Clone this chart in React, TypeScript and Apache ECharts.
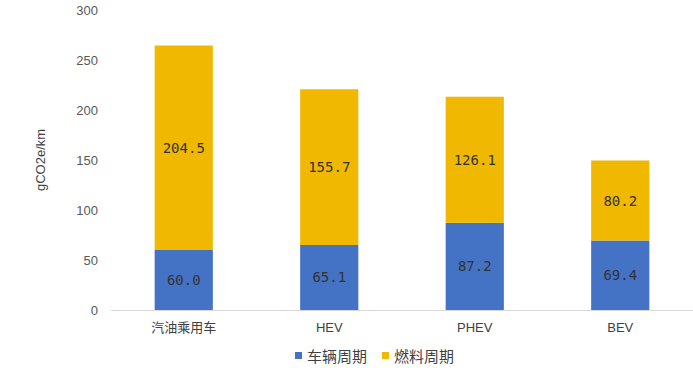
import React, { useEffect, useRef } from "react";
import * as echarts from "echarts";

const categories = ["汽油乘用车", "HEV", "PHEV", "BEV"];
const vehicleCycle = [60.0, 65.1, 87.2, 69.4];
const fuelCycle = [204.5, 155.7, 126.1, 80.2];
const seriesNames = ["车辆周期", "燃料周期"];
const yAxisName = "gCO2e/km";

export default function App() {
  const ref = useRef<HTMLDivElement>(null);
  useEffect(() => {
    if (!ref.current) return;
    const chart = echarts.init(ref.current, null, { renderer: "svg" });
    const labelStyle = {
      show: true,
      position: "inside" as const,
      formatter: (p: any) => Number(p.value).toFixed(1),
      color: "#333333",
      fontSize: 14,
      fontFamily: "DejaVu Sans Mono",
    };
    chart.setOption({
      animation: false,
      grid: { left: 111, right: 0, top: 10, bottom: 58 },
      legend: {
        top: 348,
        left: 295,
        padding: 0,
        itemWidth: 7,
        itemHeight: 7,
        itemGap: 15,
        icon: "rect",
        textStyle: { fontSize: 15, color: "#404040", fontFamily: "Noto Sans CJK SC" },
        data: seriesNames,
      },
      xAxis: {
        type: "category",
        data: categories,
        axisLine: { lineStyle: { color: "#d9d9d9" } },
        axisTick: { show: false },
        axisLabel: { color: "#404040", fontSize: 13, margin: 11, fontFamily: "Liberation Sans, Noto Sans CJK SC" },
      },
      yAxis: {
        type: "value",
        min: 0,
        max: 300,
        interval: 50,
        name: yAxisName,
        nameLocation: "middle",
        nameRotate: 90,
        nameGap: 64,
        nameTextStyle: { fontSize: 13, color: "#404040", fontFamily: "Liberation Sans" },
        axisLine: { show: false },
        axisTick: { show: false },
        splitLine: { show: false },
        axisLabel: { color: "#595959", fontSize: 13, margin: 13, fontFamily: "Liberation Sans" },
      },
      series: [
        {
          name: seriesNames[0],
          type: "bar",
          stack: "total",
          barWidth: "40%",
          data: vehicleCycle,
          itemStyle: { color: "#4472C4" },
          label: labelStyle,
        },
        {
          name: seriesNames[1],
          type: "bar",
          stack: "total",
          barWidth: "40%",
          data: fuelCycle,
          itemStyle: { color: "#F0B800" },
          label: labelStyle,
        },
      ],
    });
    return () => chart.dispose();
  }, []);
  return <div ref={ref} style={{ width: 693, height: 368, position: "absolute", left: 0, top: 0 }} />;
}
